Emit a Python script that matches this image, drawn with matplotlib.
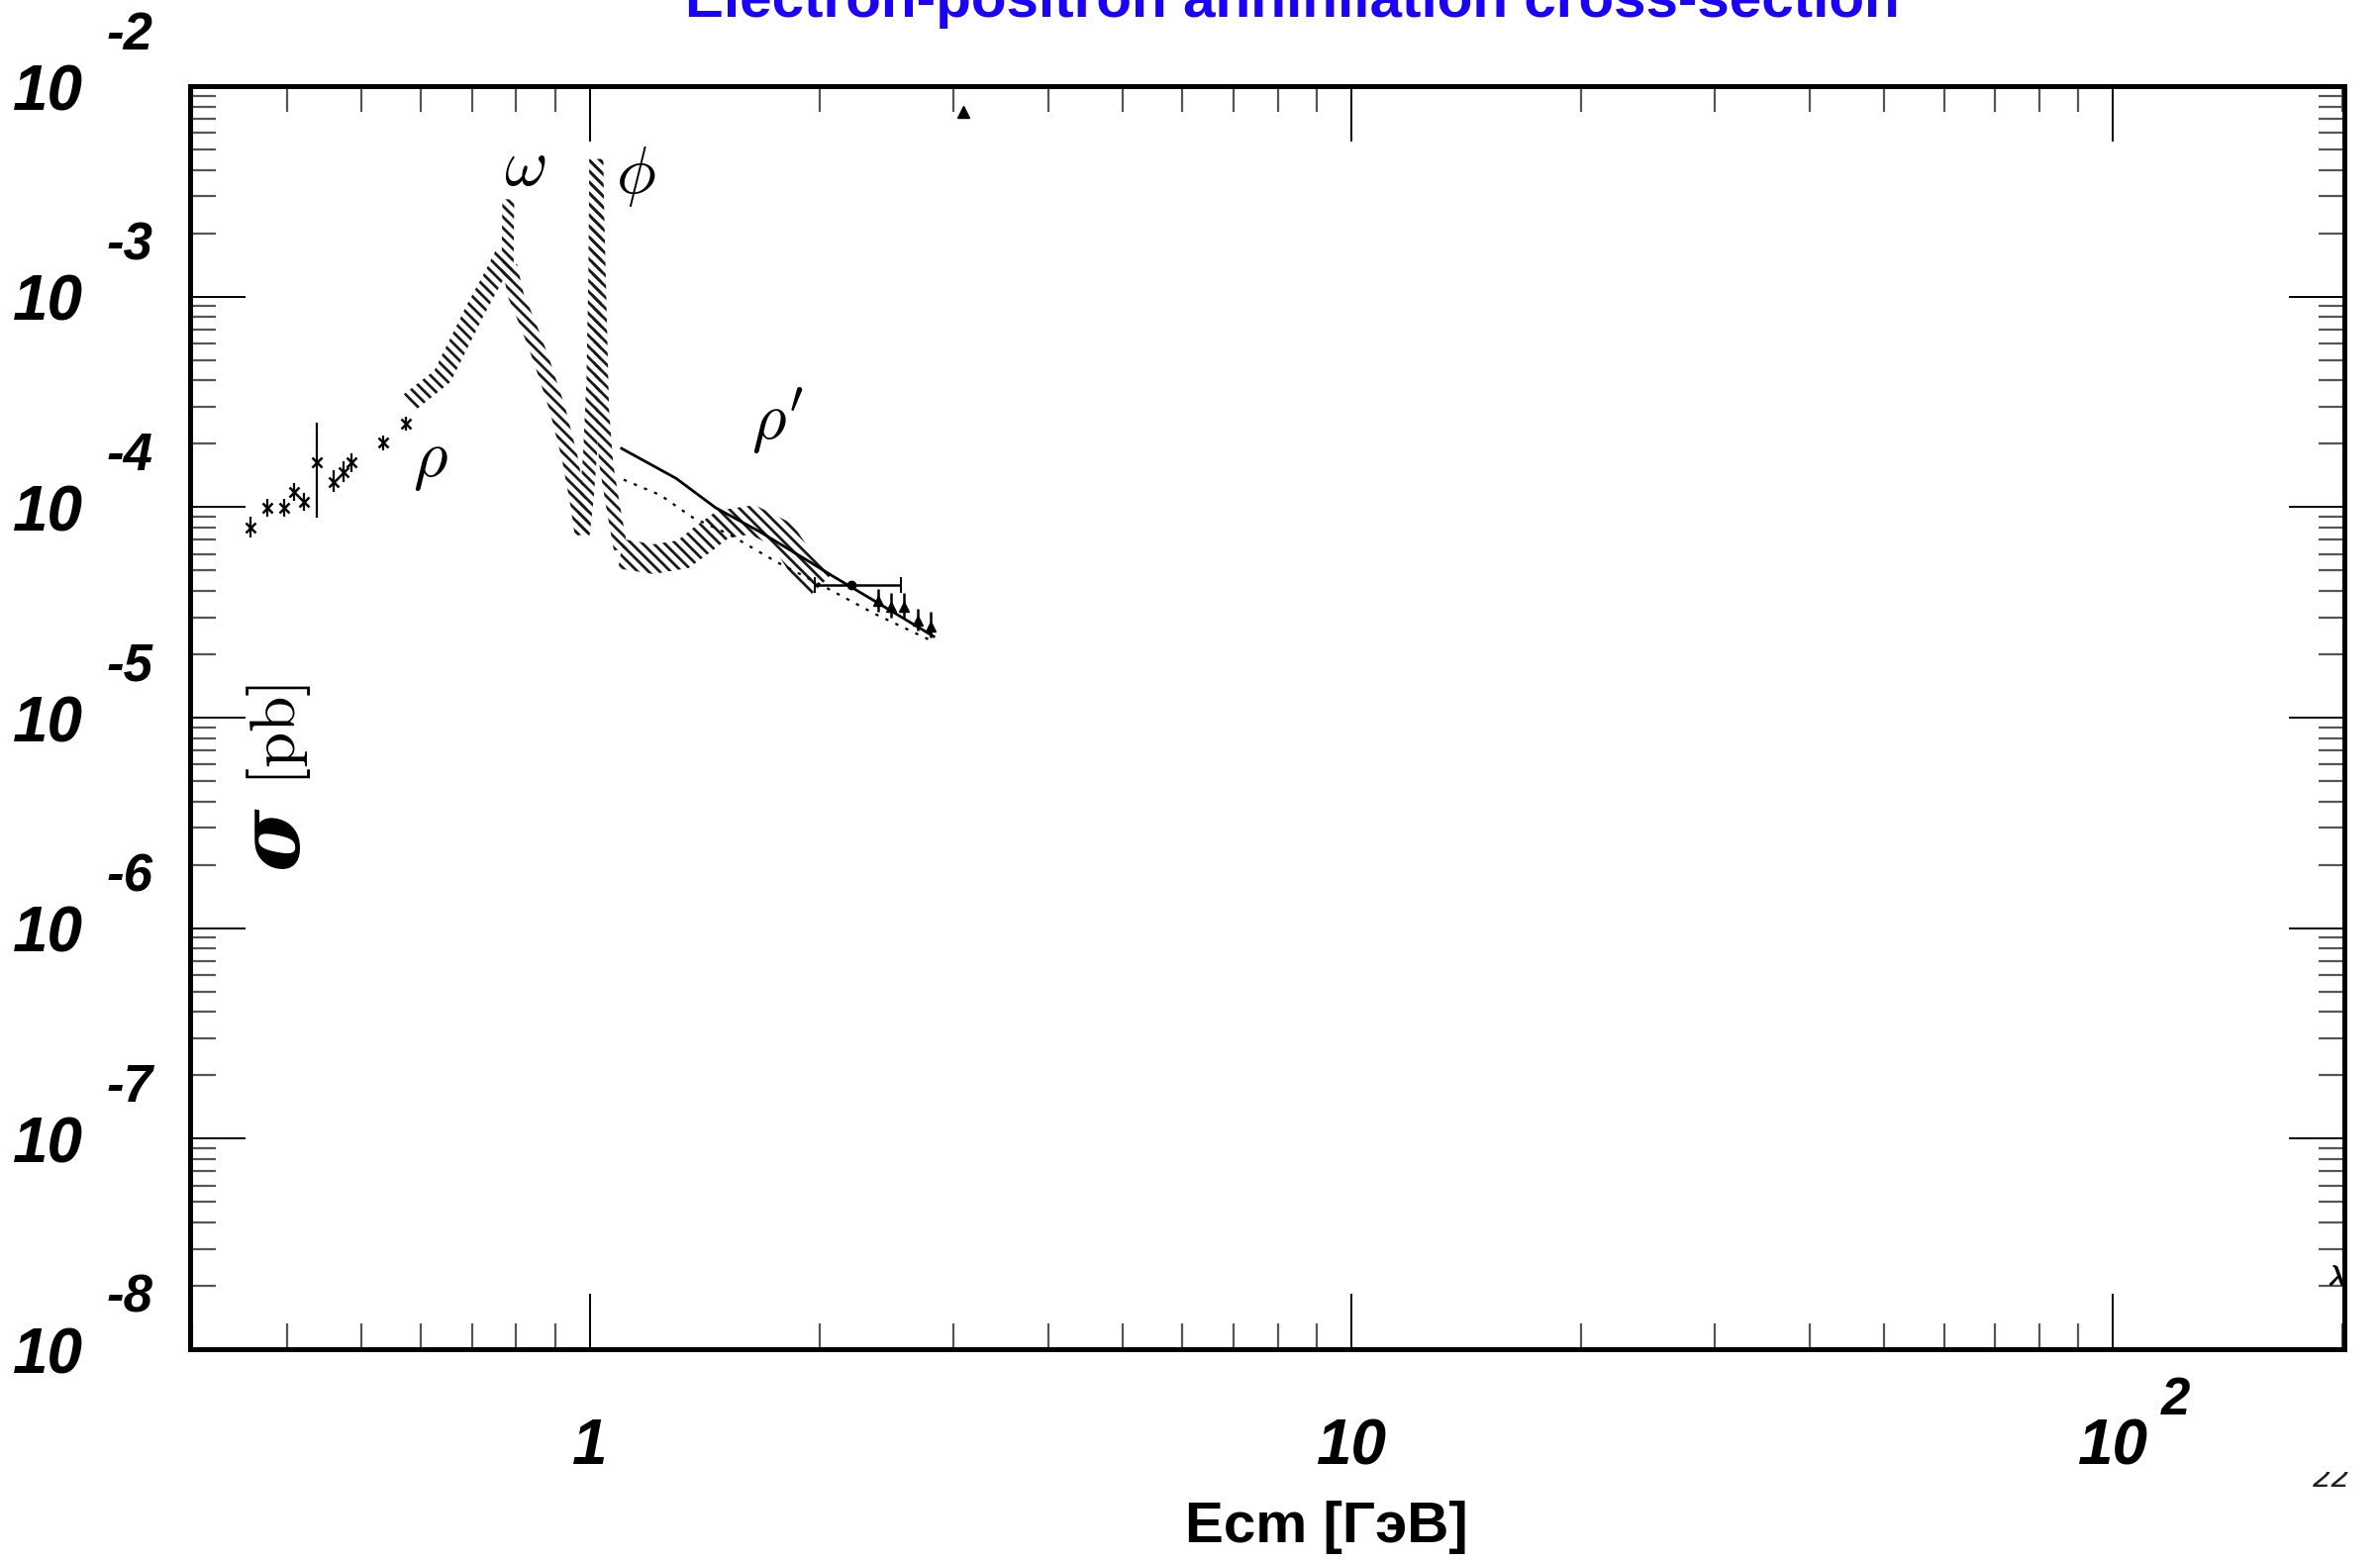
import numpy as np
import matplotlib
matplotlib.use("Agg")
import matplotlib.pyplot as plt
from matplotlib import transforms, font_manager
from matplotlib.patches import Polygon
from matplotlib.ticker import LogLocator, NullFormatter
from matplotlib.transforms import Bbox

# --- fonts -------------------------------------------------------------
installed = {f.name for f in font_manager.fontManager.ttflist}
NARROW = "Liberation Sans Narrow" in installed
SANS = ["Liberation Sans Narrow", "Liberation Sans"] if NARROW else ["Liberation Sans", "DejaVu Sans"]
TICK_FS = 52 if NARROW else 46
EXP_FS = 43 if NARROW else 38
plt.rcParams["mathtext.fontset"] = "cm"
plt.rcParams["hatch.linewidth"] = 2.0

# --- data ------------------------------------------------------------
# rho rising branch
rho_E = [0.580, 0.640, 0.707, 0.750, 0.772]
rho_S = [3.16e-4, 4.19e-4, 8.65e-4, 1.28e-3, 1.58e-3]
# omega spike
omg_E = [0.779, 0.780, 0.781]
omg_S = [1.2e-3, 2.0e-3, 2.9e-3]
# omega falling branch down to the dip
fall_E = [0.783, 0.800, 0.830, 0.863, 0.906, 0.940, 0.965, 0.978]
fall_S = [1.4e-3, 1.0e-3, 7.3e-4, 5.0e-4, 2.93e-4, 1.73e-4, 1.03e-4, 7.4e-5]
# phi: left side and right side
phiL_E = [0.978, 0.990, 1.000, 1.010, 1.016, 1.019]
phiL_S = [7.4e-5, 1.1e-4, 1.8e-4, 4.0e-4, 1.3e-3, 4.5e-3]
phiR_E = [1.019, 1.022, 1.027, 1.037, 1.050, 1.070, 1.097]
phiR_S = [4.5e-3, 2.5e-3, 1.24e-3, 2.9e-4, 1.6e-4, 1.05e-4, 6.3e-5]
# plateau and rho' bump
flat_E = [1.097, 1.211, 1.325, 1.406, 1.493, 1.633, 1.787, 1.897, 2.015]
flat_S = [6.0e-5, 5.66e-5, 5.97e-5, 7.03e-5, 8.27e-5, 8.72e-5, 7.41e-5, 5.36e-5, 4.31e-5]

# low energy points
low_E = [0.358, 0.377, 0.397, 0.409, 0.421, 0.438, 0.461, 0.474, 0.486, 0.535, 0.573]
low_S = [8.0e-5, 9.9e-5, 9.9e-5, 1.18e-4, 1.06e-4, 1.63e-4, 1.32e-4, 1.47e-4, 1.63e-4, 2.03e-4, 2.49e-4]
low_hi = [9.0e-5, 1.1e-4, 1.1e-4, 1.3e-4, 1.17e-4, 2.52e-4, 1.5e-4, 1.65e-4, 1.8e-4, 2.2e-4, 2.7e-4]
low_lo = [7.2e-5, 9.0e-5, 9.0e-5, 1.07e-4, 9.6e-5, 8.9e-5, 1.18e-4, 1.32e-4, 1.47e-4, 1.86e-4, 2.3e-4]

# high energy points
hi_E = [2.389, 2.484, 2.584, 2.692, 2.800]
hi_S = [3.59e-5, 3.36e-5, 3.36e-5, 2.89e-5, 2.71e-5]
hi_hi = [4.1e-5, 3.9e-5, 3.9e-5, 3.3e-5, 3.2e-5]
hi_lo = [3.2e-5, 3.0e-5, 3.0e-5, 2.6e-5, 2.4e-5]

# point with horizontal error bar
wide_E, wide_S, wide_lo, wide_hi = 2.205, 4.25e-5, 1.973, 2.56

# model curves
solid_E = [1.100, 1.297, 1.462, 1.669, 1.937, 2.094, 2.362, 2.827]
solid_S = [1.90e-4, 1.37e-4, 9.93e-5, 7.66e-5, 5.53e-5, 4.65e-5, 3.59e-5, 2.43e-5]
dot_E = [1.107, 1.237, 1.365, 1.525, 1.751, 2.033, 2.362, 2.800]
dot_S = [1.35e-4, 1.14e-4, 8.91e-5, 7.41e-5, 5.53e-5, 4.18e-5, 3.12e-5, 2.33e-5]

# stray marks of the scan
stray_E, stray_S = 3.09, 7.55e-3
edge_E, edge_S = 196.8, 2.26e-8

res_labels = [(0.821, 4.16e-3, r"$\omega$"), (1.148, 3.73e-3, r"$\phi$"),
              (0.618, 1.67e-4, r"$\rho$"), (1.762, 2.55e-4, r"$\rho'$")]

y_exps = [-8, -7, -6, -5, -4, -3, -2]

# --- figure ------------------------------------------------------------
W, H = 2404, 1576
fig = plt.figure(figsize=(W / 100, H / 100), dpi=100)
L, R, T, B = 192, 2368, 87, 1363
ax = fig.add_axes([L / W, 1 - B / H, (R - L) / W, (B - T) / H])
ax.set_xscale("log")
ax.set_yscale("log")
ax.set_xlim(0.2983, 201.4)
ax.set_ylim(1e-8, 1e-2)

for s in ax.spines.values():
    s.set_linewidth(3.6)
for a in (ax.xaxis, ax.yaxis):
    a.set_major_locator(LogLocator(base=10, numticks=20))
    a.set_minor_locator(LogLocator(base=10, subs=np.arange(2, 10), numticks=100))
    a.set_minor_formatter(NullFormatter())
ax.tick_params(which="both", direction="in", top=True, right=True,
               labelbottom=False, labelleft=False)
ax.tick_params(which="major", length=40, width=1.4, color="black")
ax.tick_params(which="minor", length=19, width=1.6, color="#555555")


def band(xs, ys, half, hatch="\\\\\\"):
    pts = ax.transData.transform(np.column_stack([xs, ys]))
    d = np.gradient(pts, axis=0)
    n = np.column_stack([-d[:, 1], d[:, 0]])
    n /= np.hypot(n[:, 0], n[:, 1])[:, None]
    outline = np.vstack([pts + half * n, (pts - half * n)[::-1]])
    verts = ax.transData.inverted().transform(outline)
    ax.add_patch(Polygon(verts, closed=True, fill=False, lw=0,
                         edgecolor="#1a1a1a", hatch=hatch))


band(rho_E, rho_S, 10)
band(omg_E, omg_S, 6)
band(fall_E, fall_S, 8)
band(phiL_E, phiL_S, 7)
band(phiR_E, phiR_S, 7)
band(flat_E, flat_S, 15)

low_S_a = np.array(low_S)
ax.errorbar(low_E, low_S, yerr=[low_S_a - np.array(low_lo), np.array(low_hi) - low_S_a],
            fmt="x", ms=7, mew=1.8, color="black", elinewidth=1.6, capsize=0)
hi_S_a = np.array(hi_S)
ax.errorbar(hi_E, hi_S, yerr=[hi_S_a - np.array(hi_lo), np.array(hi_hi) - hi_S_a],
            fmt="^", ms=7, color="black", elinewidth=1.8, capsize=0)
ax.errorbar([wide_E], [wide_S], xerr=[[wide_E - wide_lo], [wide_hi - wide_E]],
            fmt="o", ms=6, color="black", elinewidth=1.8, capsize=6, capthick=1.4)

ax.plot(solid_E, solid_S, color="black", lw=2.0)
ax.plot(dot_E, dot_S, color="black", lw=1.6, dashes=(1.5, 3.5))

ax.plot([stray_E], [stray_S], marker="^", ms=8, color="black", clip_on=False)
ax.plot([edge_E], [edge_S], marker="$\\lambda$", ms=14, color="black")

for x, y, s in res_labels:
    ax.text(x, y, s, fontsize=48, ha="center", va="center")

# --- tick labels --------------------------------------------------------
blend_y = transforms.blended_transform_factory(ax.transAxes, ax.transData)
ty = transforms.offset_copy(blend_y, fig=fig, x=0, y=-7, units="dots")
ty_exp = transforms.offset_copy(blend_y, fig=fig, x=0, y=51, units="dots")
lab = dict(family=SANS, weight="bold", style="italic", color="black")
for e in y_exps:
    ax.text(-0.0495, 10.0 ** e, "10", transform=ty, ha="right", va="center",
            fontsize=TICK_FS, **lab)
    ax.text(-0.039, 10.0 ** e, f"{e}", transform=ty_exp, ha="left", va="center",
            fontsize=EXP_FS, **lab)

blend_x = transforms.blended_transform_factory(ax.transData, ax.transAxes)
tx = transforms.offset_copy(blend_x, fig=fig, x=0, y=-6, units="dots")
ylab = (1363 - 1456) / (B - T)
ax.text(1.0, ylab, "1", transform=tx, ha="center", va="center", fontsize=TICK_FS, **lab)
ax.text(10.0, ylab, "10", transform=tx, ha="center", va="center", fontsize=TICK_FS, **lab)
ax.text(100.0, ylab, "10", transform=tx, ha="center", va="center", fontsize=TICK_FS, **lab)
tx_exp = transforms.offset_copy(blend_x, fig=fig, x=49, y=41, units="dots")
ax.text(100.0, ylab, "2", transform=tx_exp, ha="left", va="center", fontsize=EXP_FS, **lab)

# --- axis titles ----------------------------------------------------------
fig.text(1340 / W, 1 - 1558 / H, "Ecm [ГэВ]", ha="center", va="baseline",
         fontsize=42, weight="bold", family=["Liberation Sans", "DejaVu Sans"])
fig.text(277 / W, 1 - 847 / H, "σ", rotation=90, ha="center", va="center",
         fontsize=62, family="DejaVu Serif", weight="bold", style="italic")
fig.text(281 / W, 1 - 743 / H, r"$[\mathrm{pb}]$", rotation=90, ha="center",
         va="center", fontsize=47)

# the title sits partly above the page, as in the scanned slide
fig.text(1305 / W, 1 - 17 / H, "Electron-positron annihilation cross-section",
         ha="center", va="baseline", fontsize=42, weight="bold", color="#1a00ff",
         family=["Liberation Sans", "DejaVu Sans"])

page = fig.text(2355 / W, 1 - 1502 / H, "22", ha="center", va="baseline",
                fontsize=22, style="italic", color="#222222")
page.set_clip_box(Bbox.from_extents(2300, 0, W, H - 1487))
page.set_clip_on(True)

fig.savefig("out.png", dpi=100)
